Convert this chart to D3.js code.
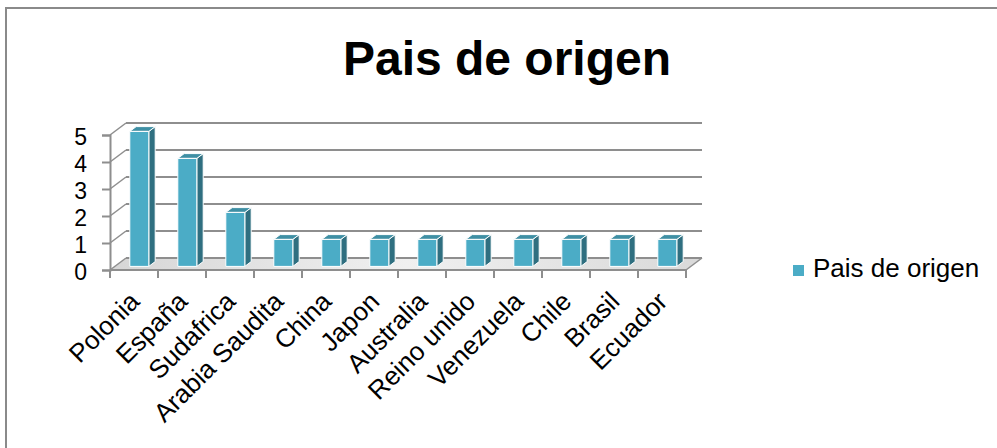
<!DOCTYPE html>
<html>
<head>
<meta charset="utf-8">
<script src="https://cdn.jsdelivr.net/npm/d3@7"></script>
<style>
  html, body { margin: 0; padding: 0; background: #fff; }
  svg { display: block; }
  text { font-family: "Liberation Sans", Arial, sans-serif; fill: #000; }
</style>
</head>
<body>
<svg id="chart" width="997" height="448"></svg>
<script>
// ---- data ----
const categories = ["Polonia", "España", "Sudafrica", "Arabia Saudita", "China", "Japon",
                    "Australia", "Reino unido", "Venezuela", "Chile", "Brasil", "Ecuador"];
const values = [5, 4, 2, 1, 1, 1, 1, 1, 1, 1, 1, 1];
const yTicks = [0, 1, 2, 3, 4, 5];
const seriesName = "Pais de origen";
const chartTitle = "Pais de origen";

// ---- layout ----
const plot = { left: 110, right: 686, bottom: 270, top: 135 };
const depth = { dx: 16, dy: -12 };        // 3D depth offset of the floor / walls
const barF0 = 0.3, barF1 = 0.7;           // bar depth fraction within the floor
const barW = 19;

const colors = { front: "#4BACC6", side: "#2F6F80", top: "#3E8FA4", grid: "#8E8E8E" };

const svg = d3.select("#chart");

// chart border
svg.append("rect").attr("x", 6).attr("y", 8).attr("width", 1000).attr("height", 450)
  .attr("fill", "#fff").attr("stroke", "#8a8a8a").attr("stroke-width", 2);

const x = d3.scaleBand().domain(categories).range([plot.left, plot.right]).paddingInner(0).paddingOuter(0);
const y = d3.scaleLinear().domain([0, d3.max(yTicks)]).range([plot.bottom, plot.top]);

// floor gradient
const defs = svg.append("defs");
const grad = defs.append("linearGradient").attr("id", "floorGrad")
  .attr("x1", "0").attr("y1", "0").attr("x2", "1").attr("y2", "0");
grad.append("stop").attr("offset", "0").attr("stop-color", "#d6d6d6");
grad.append("stop").attr("offset", "0.5").attr("stop-color", "#f0f0f0");
grad.append("stop").attr("offset", "1").attr("stop-color", "#d9d9d9");

// floor
const fl = [[plot.left, plot.bottom], [plot.right, plot.bottom],
            [plot.right + depth.dx, plot.bottom + depth.dy], [plot.left + depth.dx, plot.bottom + depth.dy]];
svg.append("path").attr("d", d3.line()(fl) + "Z").attr("fill", "url(#floorGrad)").attr("stroke", "none");

// back wall gridlines + left wall diagonals
const grid = svg.append("g");
grid.selectAll("line.h").data(yTicks).join("line").attr("class", "h")
  .attr("x1", plot.left + depth.dx).attr("x2", plot.right + depth.dx)
  .attr("y1", d => y(d) + depth.dy).attr("y2", d => y(d) + depth.dy)
  .attr("stroke", colors.grid).attr("stroke-width", 2);
grid.selectAll("line.d").data(yTicks).join("line").attr("class", "d")
  .attr("x1", plot.left).attr("x2", plot.left + depth.dx)
  .attr("y1", d => y(d)).attr("y2", d => y(d) + depth.dy)
  .attr("stroke", colors.grid).attr("stroke-width", 1.5);
// right edge of floor
grid.append("line").attr("x1", plot.right).attr("y1", plot.bottom)
  .attr("x2", plot.right + depth.dx).attr("y2", plot.bottom + depth.dy)
  .attr("stroke", colors.grid).attr("stroke-width", 1.5);

// bars
const bars = svg.append("g").selectAll("g").data(categories.map((c, i) => ({ c, v: values[i] }))).join("g");
function barGeom(d) {
  const cx = x(d.c) + x.bandwidth() / 2;
  const fx0 = cx + depth.dx * barF0 - barW / 2 + 0.5;
  const fy = depth.dy * barF0;
  const bdx = depth.dx * (barF1 - barF0), bdy = depth.dy * (barF1 - barF0);
  const yb = y(0) + fy, yt = y(d.v) + fy;
  return { x0: fx0, x1: fx0 + barW, yb, yt, bdx, bdy };
}
bars.append("path").attr("d", d => { const g = barGeom(d);
  return d3.line()([[g.x1, g.yb], [g.x1 + g.bdx, g.yb + g.bdy], [g.x1 + g.bdx, g.yt + g.bdy], [g.x1, g.yt]]) + "Z"; })
  .attr("fill", colors.side).attr("stroke", "#fff").attr("stroke-width", 1);
bars.append("path").attr("d", d => { const g = barGeom(d);
  return d3.line()([[g.x0, g.yt], [g.x1, g.yt], [g.x1 + g.bdx, g.yt + g.bdy], [g.x0 + g.bdx, g.yt + g.bdy]]) + "Z"; })
  .attr("fill", colors.top).attr("stroke", "#fff").attr("stroke-width", 1);
bars.append("path").attr("d", d => { const g = barGeom(d);
  return d3.line()([[g.x0, g.yb], [g.x1, g.yb], [g.x1, g.yt], [g.x0, g.yt]]) + "Z"; })
  .attr("fill", colors.front).attr("stroke", "#fff").attr("stroke-width", 1);

// y axis
const yAxis = svg.append("g").attr("transform", `translate(${plot.left},0)`)
  .call(d3.axisLeft(y).tickValues(yTicks).tickSize(8).tickPadding(15).tickFormat(d3.format("d")));
yAxis.selectAll("path, line").attr("stroke", colors.grid).attr("stroke-width", 2);
yAxis.selectAll("text").attr("font-size", 23).attr("fill", "#000")
  .attr("font-family", "Liberation Sans, Arial, sans-serif").attr("dy", "0.4em");

// x axis: front edge, ticks at category boundaries
const xAxis = svg.append("g").attr("transform", `translate(0,${plot.bottom})`);
xAxis.append("line").attr("x1", plot.left).attr("x2", plot.right).attr("stroke", colors.grid).attr("stroke-width", 2);
const bounds = categories.map(c => x(c)).concat([plot.right]);
xAxis.selectAll("line.t").data(bounds).join("line").attr("class", "t")
  .attr("x1", d => d).attr("x2", d => d).attr("y1", 0).attr("y2", 8)
  .attr("stroke", colors.grid).attr("stroke-width", 2);
xAxis.selectAll("text").data(categories).join("text")
  .attr("transform", d => `translate(${x(d) + x.bandwidth() / 2 + 7},${33}) rotate(-45)`)
  .attr("text-anchor", "end").attr("font-size", 26).text(d => d);

// title
svg.append("text").attr("x", 507).attr("y", 75).attr("text-anchor", "middle")
  .attr("font-size", 48).attr("font-weight", "bold").text(chartTitle);

// legend
const lg = svg.append("g").attr("transform", "translate(793,265)");
lg.append("rect").attr("width", 11).attr("height", 11).attr("fill", colors.front);
lg.append("text").attr("x", 20).attr("y", 12).attr("font-size", 26).text(seriesName);
</script>
</body>
</html>
